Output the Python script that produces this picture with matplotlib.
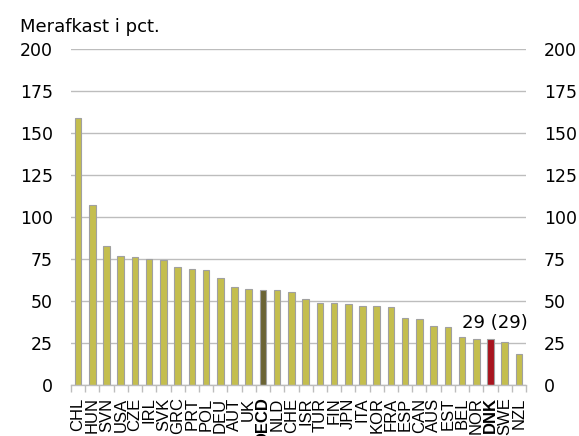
import matplotlib.pyplot as plt
import numpy as np

# countries and excess return (pct.)
countries = ['CHL', 'HUN', 'SVN', 'USA', 'CZE', 'IRL', 'SVK', 'GRC', 'PRT', 'POL',
             'DEU', 'AUT', 'UK', 'OECD', 'NLD', 'CHE', 'ISR', 'TUR', 'FIN', 'JPN',
             'ITA', 'KOR', 'FRA', 'ESP', 'CAN', 'AUS', 'EST', 'BEL', 'NOR', 'DNK',
             'SWE', 'NZL']
values = [159.3, 107.0, 82.9, 76.8, 76.0, 74.8, 74.4, 70.0, 69.2, 68.8,
          63.7, 58.1, 57.1, 56.7, 56.3, 55.2, 51.0, 48.6, 48.6, 48.0,
          47.2, 46.8, 46.4, 39.7, 39.1, 35.3, 34.7, 28.6, 27.6, 27.6,
          25.4, 18.5]
yticks = [0, 25, 50, 75, 100, 125, 150, 175, 200]
dnk_label = '29 (29)'

olive = '#C4BE4E'
colors = [olive] * len(countries)
colors[countries.index('OECD')] = '#6B6434'
colors[countries.index('DNK')] = '#A8141E'

fig = plt.figure(figsize=(5.79, 4.36), dpi=100)
ax = fig.add_axes([0.1226, 0.117, 0.7859, 0.770])

x = np.arange(len(countries))
ax.bar(x, values, width=0.46, color=colors, edgecolor='#A0A0A0', linewidth=0.8, zorder=3)

ax.set_xlim(-0.5, len(countries) - 0.5)
ax.set_ylim(0, 200)
ax.set_yticks(yticks)
ax.grid(axis='y', color='#BDBDBD', linewidth=1.0, zorder=0)
ax.tick_params(axis='y', length=0, labelleft=True, labelright=True, labelsize=12.5)
ax.yaxis.set_tick_params(which='major', pad=13)
for t in ax.yaxis.get_major_ticks():
    t.label2.set_fontfamily('DejaVu Sans')
    t.label1.set_fontfamily('DejaVu Sans')
for t in ax.yaxis.get_major_ticks():
    t.set_pad(13)

# category boundary ticks on the bottom axis
ax.set_xticks(np.arange(-0.5, len(countries)), minor=True)
ax.set_xticks(x)
ax.set_xticklabels(countries, rotation=90, fontfamily='Liberation Sans', fontsize=12)
for lab in ax.get_xticklabels():
    lab.set_verticalalignment('top')
    if lab.get_text() in ('OECD', 'DNK'):
        lab.set_fontweight('bold')
ax.tick_params(axis='x', which='major', length=0, pad=9)
ax.tick_params(axis='x', which='minor', length=5, color='#BDBDBD', width=1)

for s in ['left', 'right', 'top']:
    ax.spines[s].set_visible(False)
ax.spines['bottom'].set_color('#BDBDBD')
ax.spines['bottom'].set_linewidth(1.0)
ax.spines['bottom'].set_zorder(4)

i = countries.index('DNK')
ax.text(i + 0.3, 34, dnk_label, ha='center', va='baseline',
        fontsize=13, fontfamily='DejaVu Sans')

fig.text(20 / 579, 1 - 32 / 436, 'Merafkast i pct.', fontsize=13, fontfamily='DejaVu Sans',
         ha='left', va='baseline')

fig.savefig('out.png', dpi=100)
